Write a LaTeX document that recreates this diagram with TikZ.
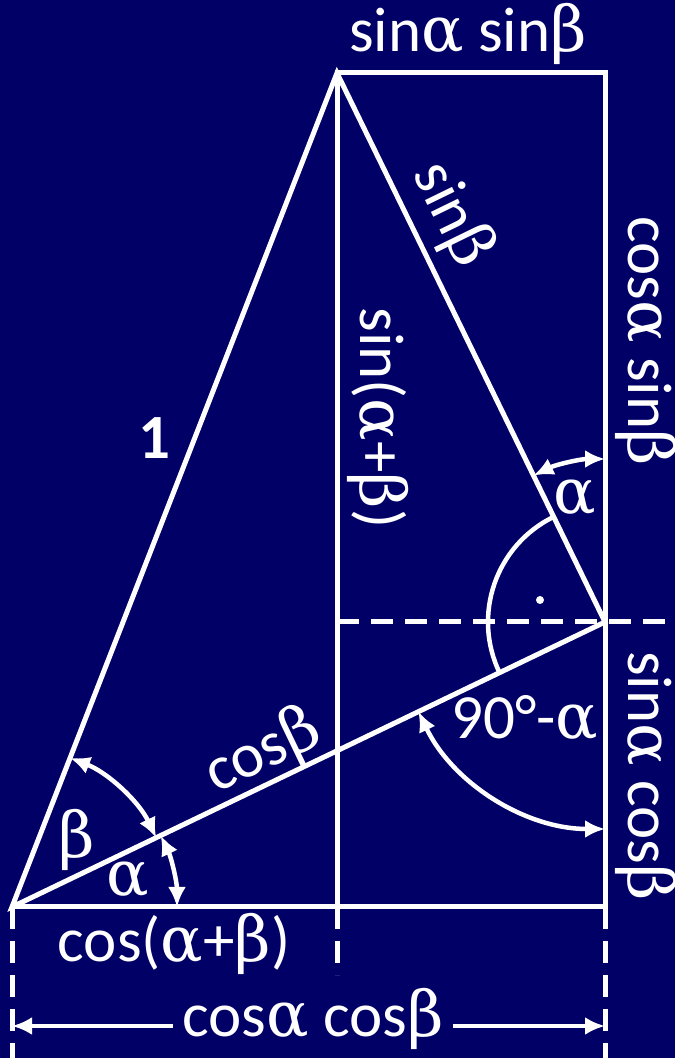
\documentclass[tikz,border=0pt]{standalone}
\usepackage{fontspec}
\setmainfont{Carlito}
\newfontfamily\grkfont{DejaVu Serif}
\newcommand{\galpha}{{\grkfont α}}
\newcommand{\gbeta}{{\grkfont β}}
\usetikzlibrary{calc,arrows.meta}
\definecolor{navybg}{RGB}{0,0,102}
\tikzset{
  edge/.style     = {draw=white, line width=5pt, line join=miter},
  dimline/.style  = {draw=white, line width=5pt, dash pattern=on 22pt off 12pt},
  angarc/.style   = {draw=white, line width=4.5pt, {Latex[length=20pt,width=18pt]}-{Latex[length=20pt,width=18pt]}},
  rightarc/.style = {draw=white, line width=4.5pt},
  dimarrow/.style = {draw=white, line width=4.5pt, -{Latex[length=20pt,width=18pt]}},
  lbl/.style      = {text=white, font=\fontsize{63}{70}\selectfont, inner sep=0pt},
  lblb/.style     = {text=white, font=\fontsize{63}{70}\selectfont\bfseries, inner sep=0pt},
}

\begin{document}
\begin{tikzpicture}[x=1pt,y=1pt]
  % background
  \fill[navybg] (0,0) rectangle (675,1058);
  \useasboundingbox (0,0) rectangle (675,1058);

  % points
  \coordinate (O) at (12,151);
  \coordinate (P) at (337,985);
  \coordinate (Q) at (605,436);
  \coordinate (B) at (605,151);
  \coordinate (F) at (337,151);
  \coordinate (T) at (605,985);
  \coordinate (M) at (337,436);
  \coordinate (E) at (675,436);

  % triangles and box
  \draw[edge] (O) -- (P) -- (Q) -- cycle;
  \draw[edge] (O) -- (B) -- (T) -- (P) -- (F);
  \draw[dimline] (M) -- (E);

  % dimension lines below the base
  \draw[dimline] (O) -- (12,0);
  \draw[dimline] (F) -- (337,83);
  \draw[dimline] (B) -- (605,0);

  % angles
  \draw[angarc] ($(O)+(0:165)$) arc[start angle=0, end angle=25.67, radius=165];
  \draw[angarc] ($(O)+(25.67:160)$) arc[start angle=25.67, end angle=68.71, radius=160];
  \draw[angarc] ($(Q)+(205.67:207)$) arc[start angle=205.67, end angle=270, radius=207];
  \draw[angarc] ($(Q)+(116.02:163)$) arc[start angle=116.02, end angle=90, radius=163];
  \draw[rightarc] ($(Q)+(116.02:117)$) arc[start angle=116.02, end angle=205.67, radius=117];
  \fill[white] ($(Q)+(-65,22)$) circle[radius=4];

  % labels
  \node[lbl, anchor=base] (ss) at (468,1006) {sin\galpha{} sin\gbeta};
  \node[lbl, rotate=-64] (sb) at (452,843) {sin\gbeta};
  \node[lbl, rotate=-90, anchor=base] (cs) at (628,717) {cos\galpha{} sin\gbeta};
  \node[lbl, rotate=-90, anchor=base] (sab) at (360,640) {sin(\galpha+\gbeta)};
  \node[lblb] (one) at (154,620) {1};
  \node[lbl, rotate=25.67] (cb) at (263,306) {cos\gbeta};
  \node[lbl] (bt) at (77,218) {\gbeta};
  \node[lbl] (al) at (128,178) {\galpha};
  \node[lbl] (alt) at (575,560) {\galpha};
  \node[lbl] (nin) at (525,340) {90°-\galpha};
  \node[lbl, rotate=-90, anchor=base] (sc) at (628,282) {sin\galpha{} cos\gbeta};
  \node[lbl, anchor=base] (cab) at (174,96) {cos(\galpha+\gbeta)};
  \node[lbl, anchor=base, inner xsep=9pt] (cc) at (313,21) {cos\galpha{} cos\gbeta};

  % total width arrow
  \coordinate (lft) at (12,32);
  \coordinate (rgt) at (605,32);
  \draw[dimarrow] (cc.west |- lft) -- (lft);
  \draw[dimarrow] (cc.east |- rgt) -- (rgt);
\end{tikzpicture}
\end{document}
